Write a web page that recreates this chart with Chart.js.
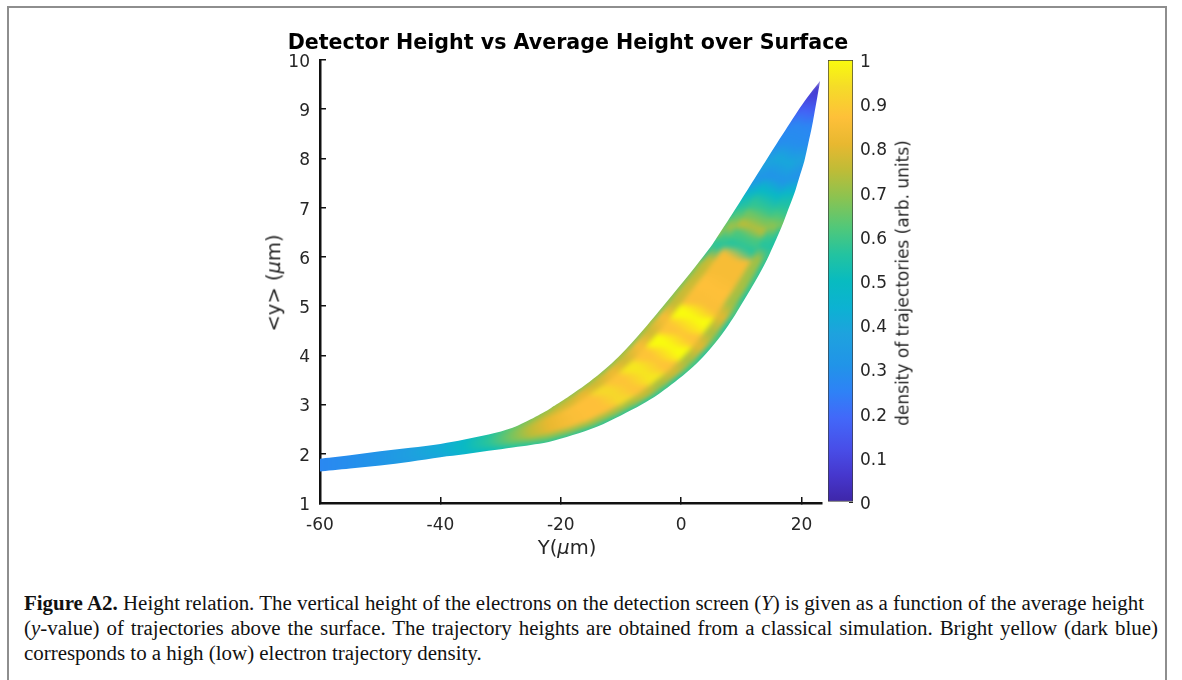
<!DOCTYPE html>
<html>
<head>
<meta charset="utf-8">
<script src="https://cdn.jsdelivr.net/npm/chart.js@4.4.1/dist/chart.umd.min.js"></script>
<style>
  html, body { margin: 0; padding: 0; background: #fff; }
  body { width: 1182px; height: 680px; position: relative; overflow: hidden; font-family: 'DejaVu Sans', sans-serif; }
  #frame { position: absolute; left: 7px; top: 6px; width: 1160px; height: 720px; border: 2px solid #8e8e8e; box-sizing: border-box; }
  canvas { position: absolute; top: 0; }
  #main { left: 0; }
  #cbar { left: 800px; }
  .axlabel { position: absolute; white-space: nowrap; color: #262626; line-height: 1; font-family: 'DejaVu Sans', sans-serif; }
  #title { position: absolute; left: 568px; top: 42px; transform: translate(-50%, -50%); white-space: nowrap; font-family: 'DejaVu Sans', sans-serif; font-weight: bold; font-size: 21px; line-height: 1; color: #000; }
  .caption { position: absolute; left: 24px; white-space: nowrap; font-family: 'Liberation Serif', 'Times New Roman', serif; font-size: 20px; line-height: 25px; color: #111; transform-origin: 0 50%; }
</style>
</head>
<body>
<div id="frame"></div>
<canvas id="main" width="1182" height="575"></canvas>
<canvas id="cbar" width="150" height="575"></canvas>

<div id="title">Detector Height vs Average Height over Surface</div>
<div class="axlabel" id="ylab" style="left:274px;top:283px;font-size:19.5px;transform:translate(-50%,-50%) rotate(-90deg);">&lt;y&gt; (<i>μ</i>m)</div>
<div class="axlabel" id="xlab" style="left:567px;top:548px;font-size:19.5px;transform:translate(-50%,-50%);">Y(<i>μ</i>m)</div>
<div class="axlabel" id="clab" style="left:903px;top:283px;font-size:17px;transform:translate(-50%,-50%) rotate(-90deg);">density of trajectories (arb. units)</div>

<div class="caption" id="cap1" style="top:591px;"><b>Figure A2.</b> Height relation. The vertical height of the electrons on the detection screen (<i>Y</i>) is given as a function of the average height</div>
<div class="caption" id="cap2" style="top:616px;">(<i>y</i>-value) of trajectories above the surface. The trajectory heights are obtained from a classical simulation. Bright yellow (dark blue)</div>
<div class="caption" style="top:641px;">corresponds to a high (low) electron trajectory density.</div>

<script>
// ---------------- data ----------------
const xTicks = [-60, -40, -20, 0, 20];
const yTicks = [1, 2, 3, 4, 5, 6, 7, 8, 9, 10];
const cbarTicks = [0, 0.1, 0.2, 0.3, 0.4, 0.5, 0.6, 0.7, 0.8, 0.9, 1];
const cbarTickLabels = ['0', '0.1', '0.2', '0.3', '0.4', '0.5', '0.6', '0.7', '0.8', '0.9', '1'];

// Cross-sections of the trajectory band: each slice joins a point on the
// upper (left) edge to a point on the lower (right) edge, in data units.
const sliceUpperX = [-60, -55, -50, -45, -40, -36, -32, -28, -25, -22,
  -21.7, -21.4, -21.1,
  -20.75, -18.25, -15.9, -13.3, -11.0, -8.76, -6.79, -4.56, -2.67, -0.66, 1.39, 3.31,
  4.88, 5.96, 7.04, 8.1, 9.14, 10.69, 12.24, 14.05, 15.86, 17.7, 19.3, 21.01, 23.1];
const sliceUpperY = [1.90, 1.97, 2.05, 2.12, 2.20, 2.29, 2.39, 2.53, 2.70, 2.90,
  2.925, 2.95, 2.97,
  3.00, 3.20, 3.40, 3.65, 3.90, 4.18, 4.45, 4.77, 5.05, 5.35, 5.65, 5.95,
  6.20, 6.40, 6.60, 6.80, 7.00, 7.30, 7.60, 7.95, 8.30, 8.65, 8.95, 9.25, 9.58];
const sliceLowerX = [-60, -55, -50, -45, -40, -36, -32, -28, -25, -22,
  -18, -14, -10,
  -6.56, -3.9, -1.67, 0.89, 3.1, 5.16, 6.9, 8.69, 10.08, 11.56, 13.0, 14.29,
  15.22, 15.94, 16.66, 17.29, 17.9, 18.83, 19.59, 20.47, 21.11, 21.73, 22.18, 22.62, 23.1];
const sliceLowerY = [1.64, 1.70, 1.76, 1.84, 1.93, 1.99, 2.06, 2.13, 2.18, 2.24,
  2.38, 2.55, 2.78,
  3.00, 3.20, 3.40, 3.65, 3.90, 4.18, 4.45, 4.77, 5.05, 5.35, 5.65, 5.95,
  6.20, 6.40, 6.60, 6.80, 7.00, 7.30, 7.60, 7.95, 8.30, 8.65, 8.95, 9.25, 9.58];
// trajectory density along each slice: middle, upper edge, lower edge
const coreDensity = [0.27, 0.29, 0.32, 0.37, 0.42, 0.49, 0.57, 0.67, 0.75, 0.81,
  0.84, 0.86, 0.87,
  0.87, 0.93, 0.88, 0.96, 0.88, 1.00, 0.88, 1.00, 0.86, 0.87, 0.85, 0.85,
  0.57, 0.61, 0.74, 0.66, 0.58, 0.48, 0.31, 0.40, 0.29, 0.27, 0.18, 0.09, 0.04];
const upperRimDensity = [0.27, 0.29, 0.31, 0.36, 0.41, 0.47, 0.55, 0.63, 0.66, 0.68,
  0.68, 0.68, 0.68,
  0.68, 0.69, 0.67, 0.69, 0.67, 0.70, 0.67, 0.70, 0.66, 0.67, 0.66, 0.66,
  0.56, 0.59, 0.70, 0.62, 0.56, 0.47, 0.31, 0.38, 0.29, 0.26, 0.17, 0.09, 0.04];
const lowerRimDensity = [0.27, 0.29, 0.31, 0.35, 0.39, 0.45, 0.50, 0.55, 0.56, 0.57,
  0.57, 0.57, 0.57,
  0.57, 0.58, 0.57, 0.59, 0.57, 0.60, 0.57, 0.60, 0.57, 0.58, 0.57, 0.58,
  0.55, 0.57, 0.66, 0.59, 0.55, 0.46, 0.30, 0.37, 0.28, 0.26, 0.17, 0.09, 0.04];

// parula colour map stops
const parulaPos = [0, 0.06, 0.12, 0.19, 0.25, 0.31, 0.38, 0.44, 0.50, 0.56, 0.62, 0.69, 0.75, 0.81, 0.87, 0.94, 1];
const parulaRGB = [[62,38,168],[70,55,205],[72,78,232],[66,104,249],[46,130,246],[33,148,232],[30,162,222],
  [12,178,210],[8,187,192],[35,195,160],[80,200,122],[140,195,80],[190,188,55],[232,184,48],[254,192,57],
  [245,220,40],[249,251,14]];

// ---------------- helpers ----------------
function rgbStr(c) { return 'rgb(' + c.map(Math.round).join(',') + ')'; }
function parula(d) {
  d = Math.max(0, Math.min(1, d));
  for (let k = 1; k < parulaPos.length; k++) {
    if (d <= parulaPos[k]) {
      const t = (d - parulaPos[k - 1]) / (parulaPos[k] - parulaPos[k - 1]);
      const a = parulaRGB[k - 1], b = parulaRGB[k];
      return rgbStr([a[0] + (b[0] - a[0]) * t, a[1] + (b[1] - a[1]) * t, a[2] + (b[2] - a[2]) * t]);
    }
  }
  return rgbStr(parulaRGB[parulaRGB.length - 1]);
}

// smooth curve through a list of pixel points (Catmull-Rom as cubic Béziers)
function smoothTo(ctx, pts) {
  for (let i = 0; i < pts.length - 1; i++) {
    const p0 = pts[Math.max(0, i - 1)], p1 = pts[i], p2 = pts[i + 1], p3 = pts[Math.min(pts.length - 1, i + 2)];
    ctx.bezierCurveTo(p1[0] + (p2[0] - p0[0]) / 6, p1[1] + (p2[1] - p0[1]) / 6,
                      p2[0] - (p3[0] - p1[0]) / 6, p2[1] - (p3[1] - p1[1]) / 6, p2[0], p2[1]);
  }
}
function thin(pts) {
  const out = [pts[0]];
  for (let i = 1; i < pts.length; i++) {
    const q = out[out.length - 1];
    if (Math.hypot(pts[i][0] - q[0], pts[i][1] - q[1]) > 4 || i === pts.length - 1) out.push(pts[i]);
  }
  return out;
}

const tickFont = { family: "'DejaVu Sans', sans-serif", size: 17 };
const textGrey = '#262626';

// strips across the band (fraction 0 = upper edge, 1 = lower edge); the outer
// strips reach past the edges so the softened colours stay opaque up to the clip
const acrossFrac = [-0.6, 0.05, 0.22, 0.78, 0.95, 1.6];
const coreWeight = [0, 0.5, 1, 0.5, 0];
const stripSide = ['u', 'u', 'c', 'l', 'l'];

const densityBand = {
  id: 'densityBand',
  beforeDatasetsDraw(chart) {
    const { ctx, scales: { x, y } } = chart;
    const U = sliceUpperX.map((v, i) => [x.getPixelForValue(v), y.getPixelForValue(sliceUpperY[i])]);
    const L = sliceLowerX.map((v, i) => [x.getPixelForValue(v), y.getPixelForValue(sliceLowerY[i])]);
    const lerp = (p, q, f) => [p[0] + (q[0] - p[0]) * f, p[1] + (q[1] - p[1]) * f];
    const dens = (i, s) => {
      const rim = stripSide[s] === 'l' ? lowerRimDensity[i] : upperRimDensity[i];
      return rim + (coreDensity[i] - rim) * coreWeight[s];
    };

    // paint the density cells on a layer of their own
    const layer = document.createElement('canvas');
    layer.width = chart.width; layer.height = chart.height;
    const lc = layer.getContext('2d');
    const U0 = [U[0][0] - 12, U[0][1]], L0 = [L[0][0] - 12, L[0][1]];
    const Us = [U0].concat(U), Ls = [L0].concat(L);
    const idx = (j) => Math.max(0, j - 1);
    for (let j = 0; j < Us.length - 1; j++) {
      for (let s = 0; s < coreWeight.length; s++) {
        const f0 = acrossFrac[s], f1 = acrossFrac[s + 1];
        const A = lerp(Us[j], Ls[j], f0), B = lerp(Us[j + 1], Ls[j + 1], f0);
        const C = lerp(Us[j + 1], Ls[j + 1], f1), D = lerp(Us[j], Ls[j], f1);
        const m0 = lerp(A, D, 0.5), m1 = lerp(B, C, 0.5);
        let g;
        if (Math.hypot(m1[0] - m0[0], m1[1] - m0[1]) < 0.01) {
          g = parula(dens(idx(j + 1), s));
        } else {
          g = lc.createLinearGradient(m0[0], m0[1], m1[0], m1[1]);
          g.addColorStop(0, parula(dens(idx(j), s)));
          g.addColorStop(1, parula(dens(idx(j + 1), s)));
        }
        lc.beginPath();
        lc.moveTo(A[0], A[1]); lc.lineTo(B[0], B[1]); lc.lineTo(C[0], C[1]); lc.lineTo(D[0], D[1]);
        lc.closePath();
        lc.fillStyle = g; lc.strokeStyle = g; lc.lineWidth = 1.5;
        lc.fill(); lc.stroke();
      }
    }

    // band outline, softened layer drawn inside it
    const up = thin(U), lo = thin(L.slice().reverse());
    ctx.save();
    ctx.beginPath();
    ctx.moveTo(up[0][0], up[0][1]);
    smoothTo(ctx, up);
    ctx.lineTo(lo[0][0], lo[0][1]);
    smoothTo(ctx, lo);
    ctx.closePath();
    ctx.clip();
    ctx.filter = 'blur(2.5px)';
    ctx.drawImage(layer, 0, 0);
    ctx.restore();
  }
};

// ---------------- main chart ----------------
new Chart(document.getElementById('main'), {
  type: 'scatter',
  data: {
    datasets: [
      { label: 'upper edge', data: sliceUpperX.map((v, i) => ({ x: v, y: sliceUpperY[i] })), showLine: false, pointRadius: 0 },
      { label: 'lower edge', data: sliceLowerX.map((v, i) => ({ x: v, y: sliceLowerY[i] })), showLine: false, pointRadius: 0 }
    ]
  },
  options: {
    responsive: false, animation: false, devicePixelRatio: 1,
    layout: { padding: { left: 0, right: 360, top: 60, bottom: 0 } },
    plugins: { legend: { display: false }, tooltip: { enabled: false } },
    scales: {
      x: {
        type: 'linear', min: -60, max: 23.4,
        afterBuildTicks: s => { s.ticks = xTicks.map(v => ({ value: v })); },
        afterFit: s => { s.height = 72; },
        ticks: { font: tickFont, color: textGrey, padding: 18, maxRotation: 0, autoSkip: false },
        grid: { display: true, drawOnChartArea: false, drawTicks: true, tickLength: -6, color: '#111', lineWidth: 1.5 },
        border: { display: true, color: '#111', width: 2.5 }
      },
      y: {
        type: 'linear', min: 1, max: 10,
        afterBuildTicks: s => { s.ticks = yTicks.map(v => ({ value: v })); },
        afterFit: s => { s.width = 320; },
        ticks: { font: tickFont, color: textGrey, padding: 16, autoSkip: false, labelOffset: 2.5 },
        grid: { display: true, drawOnChartArea: false, drawTicks: true, tickLength: -6, color: '#111', lineWidth: 1.5 },
        border: { display: true, color: '#111', width: 2.5 }
      }
    }
  },
  plugins: [densityBand]
});

// ---------------- colour bar ----------------
new Chart(document.getElementById('cbar'), {
  type: 'bar',
  data: {
    labels: [''],
    datasets: [{
      data: [[cbarTicks[0], cbarTicks[cbarTicks.length - 1]]],
      backgroundColor: (c) => {
        const area = c.chart.chartArea;
        if (!area) return parula(0.5);
        const g = c.chart.ctx.createLinearGradient(0, area.bottom, 0, area.top);
        parulaPos.forEach((p, k) => g.addColorStop(p, rgbStr(parulaRGB[k])));
        return g;
      },
      borderColor: '#3a3a3a', borderWidth: 1, borderSkipped: false,
      barPercentage: 1, categoryPercentage: 1
    }]
  },
  options: {
    responsive: false, animation: false, devicePixelRatio: 1,
    layout: { padding: { left: 28, right: 0, top: 60, bottom: 73 } },
    plugins: { legend: { display: false }, tooltip: { enabled: false } },
    scales: {
      x: { display: false },
      y: {
        position: 'right', min: 0, max: 1,
        afterBuildTicks: s => { s.ticks = cbarTicks.map(v => ({ value: v })); },
        afterFit: s => { s.width = 97; },
        ticks: { font: tickFont, color: textGrey, padding: 11, autoSkip: false, labelOffset: 2.5,
          callback: (v, i) => cbarTickLabels[i] },
        grid: { display: true, drawOnChartArea: false, drawTicks: true, tickLength: -4, color: '#262626', lineWidth: 1 },
        border: { display: false }
      }
    }
  }
});

// title sized to span the plot heading
const titleEl = document.getElementById('title');
titleEl.style.fontSize = (21 * 561 / titleEl.getBoundingClientRect().width) + 'px';

// condensed, justified caption block: the first line sets the glyph width,
// the second line is spaced out to the same right margin
const capScale = 1120 / document.getElementById('cap1').getBoundingClientRect().width;
const cap2 = document.getElementById('cap2');
const cap2Natural = cap2.getBoundingClientRect().width;
const cap2Spaces = (cap2.textContent.match(/ /g) || []).length;
cap2.style.wordSpacing = Math.max(0, (1134 / capScale - cap2Natural) / cap2Spaces) + 'px';
document.querySelectorAll('.caption').forEach(el => { el.style.transform = 'scaleX(' + capScale + ')'; });
</script>
</body>
</html>
